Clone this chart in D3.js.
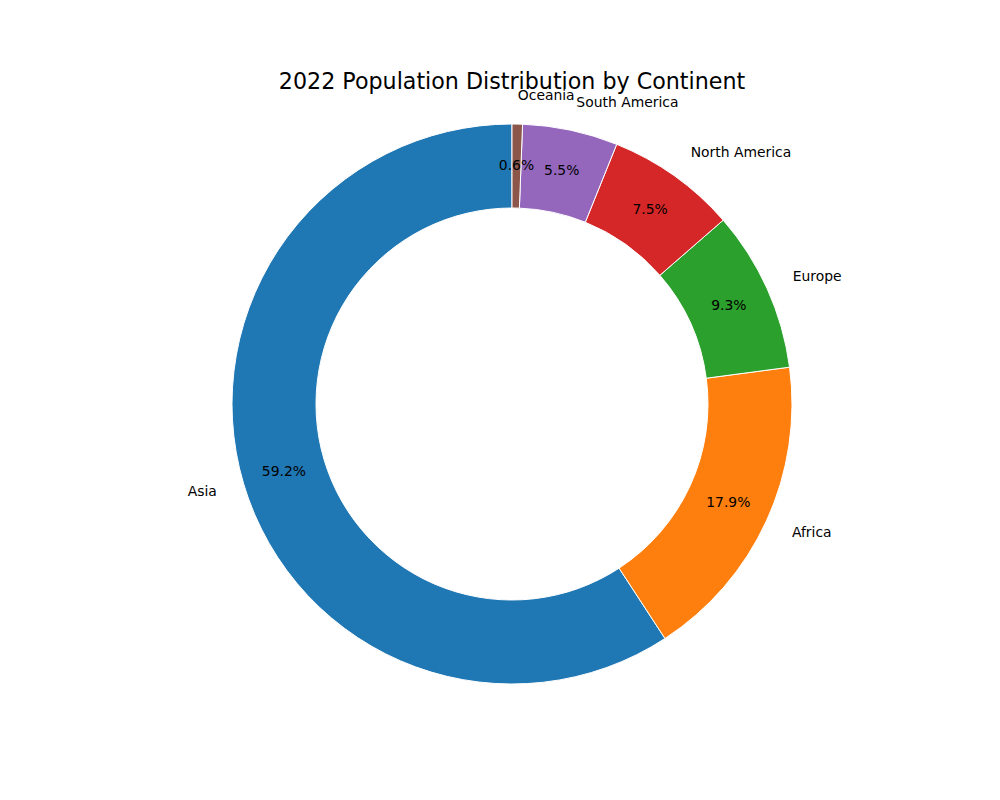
<!DOCTYPE html>
<html>
<head>
<meta charset="utf-8">
<script src="https://cdn.jsdelivr.net/npm/d3@7"></script>
<style>
  body { margin: 0; background: #fff; }
  text { font-family: "DejaVu Sans", sans-serif; }
</style>
</head>
<body>
<div id="cont"></div>
<script>
// Data
var continents = ["Asia", "Africa", "Europe", "North America", "South America", "Oceania"];
var shares = [59.2, 17.9, 9.3, 7.5, 5.5, 0.6];
var colors = ["#1f77b4", "#ff7f0e", "#2ca02c", "#d62728", "#9467bd", "#8c564b"];
var title = "2022 Population Distribution by Continent";

// Layout
var cx = 512, cy = 404;
var outerR = 280;
var innerR = outerR * 0.7;

var svg = d3.select("#cont").append("svg")
    .attr("width", 1000)
    .attr("height", 800);

svg.append("text")
    .attr("x", 512)
    .attr("y", 89)
    .attr("text-anchor", "middle")
    .style("font-size", "22.2px")
    .text(title);

var data = continents.map(function(c, i) { return {name: c, value: shares[i], color: colors[i]}; });

// counter-clockwise from 12 o'clock, like matplotlib startangle=90
var pie = d3.pie()
    .sort(null)
    .value(function(d) { return d.value; })
    .startAngle(0)
    .endAngle(-2 * Math.PI);

var arcs = pie(data);

var arc = d3.arc().innerRadius(innerR).outerRadius(outerR);
var pctArc = d3.arc().innerRadius(outerR * 0.85).outerRadius(outerR * 0.85);
var labArc = d3.arc().innerRadius(outerR * 1.1).outerRadius(outerR * 1.1);

var g = svg.append("g").attr("transform", "translate(" + cx + "," + cy + ")");

g.selectAll("path.wedge")
    .data(arcs)
    .enter().append("path")
    .attr("class", "wedge")
    .attr("d", arc)
    .attr("fill", function(d) { return d.data.color; })
    .attr("stroke", "#fff")
    .attr("stroke-width", 1);

var total = d3.sum(shares);

g.selectAll("text.pct")
    .data(arcs)
    .enter().append("text")
    .attr("class", "pct")
    .attr("transform", function(d) { return "translate(" + pctArc.centroid(d) + ")"; })
    .attr("text-anchor", "middle")
    .attr("dominant-baseline", "central")
    .attr("dy", -1)
    .style("font-size", "13.9px")
    .text(function(d) { return (d.data.value / total * 100).toFixed(1) + "%"; });

g.selectAll("text.lab")
    .data(arcs)
    .enter().append("text")
    .attr("class", "lab")
    .attr("transform", function(d) { return "translate(" + labArc.centroid(d) + ")"; })
    .attr("text-anchor", function(d) { return labArc.centroid(d)[0] > 0 ? "start" : "end"; })
    .attr("dominant-baseline", "central")
    .attr("dy", -1)
    .style("font-size", "13.9px")
    .text(function(d) { return d.data.name; });
</script>
</body>
</html>
